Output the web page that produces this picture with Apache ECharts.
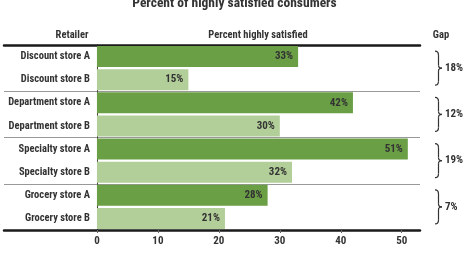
<!DOCTYPE html>
<html>
<head>
<meta charset="utf-8">
<script src="https://cdn.jsdelivr.net/npm/echarts@6/dist/echarts.min.js"></script>
<style>
  html, body { margin: 0; padding: 0; background: #fff; }
  #main { width: 469px; height: 257px; }
</style>
</head>
<body>
<div id="main"></div>
<script>
// datos
var tiendas = ['Discount store A', 'Discount store B', 'Department store A', 'Department store B',
               'Specialty store A', 'Specialty store B', 'Grocery store A', 'Grocery store B'];
var satisfechos = [33, 15, 42, 30, 51, 32, 28, 21];
var brechas = [18, 12, 19, 7];
var ticksX = [0, 10, 20, 30, 40, 50];

var fuente = "Roboto, 'DejaVu Sans Condensed', sans-serif";
var texto = '#333';
var verdeA = '#6a9f45';
var verdeB = '#b2cf99';

var grafico = echarts.init(document.getElementById('main'));

var datosBarras = satisfechos.map(function (v, i) {
	return { value: v, itemStyle: { color: i % 2 === 0 ? verdeA : verdeB } };
});

function estilo(tam) {
	return { fontFamily: fuente, fontStyle: 'condensed', fontWeight: 'bold', fontSize: tam, color: texto };
}

grafico.setOption({
	animation: false,
	title: [{
		text: 'Percent of highly satisfied consumers',
		left: 'center', top: -8,
		textStyle: estilo(13.5)
	}, {
		text: 'Retailer', left: 67, top: 25, textAlign: 'center',
		textStyle: estilo(10.5)
	}, {
		text: 'Percent highly satisfied', left: 253, top: 25, textAlign: 'center',
		textStyle: estilo(10.5)
	}, {
		text: 'Gap', left: 436, top: 25, textAlign: 'center',
		textStyle: estilo(10.5)
	}],
	grid: { left: 4, right: 49, top: 45, bottom: 27, containLabel: false, outerBoundsMode: 'none' },
	xAxis: [{
		type: 'value',
		min: -15.25,
		max: 53,
		splitLine: { show: false },
		axisLine: { show: true, onZero: false, lineStyle: { color: '#1a1a1a', width: 2.5 } },
		axisTick: { show: true, customValues: ticksX, length: 3, lineStyle: { color: '#666' } },
		axisLabel: Object.assign({ customValues: ticksX, margin: 6 }, estilo(11))
	}, {
		type: 'value', position: 'top', min: -15.25, max: 53,
		splitLine: { show: false },
		axisLine: { show: true, onZero: false, lineStyle: { color: '#1a1a1a', width: 2.5 } },
		axisTick: { show: false }, axisLabel: { show: false }
	}],
	yAxis: {
		type: 'category',
		inverse: true,
		data: tiendas,
		offset: -93,
		axisLine: { show: true, onZero: false, lineStyle: { color: '#444', width: 1 } },
		axisTick: { show: false },
		axisLabel: Object.assign({ margin: 7 }, estilo(10.5)),
		splitLine: {
			show: true,
			interval: function (i) { return i > 0 && i < 8 && i % 2 === 0; },
			lineStyle: { color: '#999', width: 1 }
		}
	},
	series: [{
		type: 'bar',
		data: datosBarras,
		barWidth: 21,
		label: Object.assign({
			show: true, position: 'insideRight', distance: 5,
			formatter: '{c}%'
		}, estilo(11))
	}]
});

// llaves de la brecha, calculadas con el eje
var graficos = [];
function curva(x1, y1, cx, cy, x2, y2) {
	return {
		type: 'bezierCurve',
		shape: { x1: x1, y1: y1, cpx1: cx, cpy1: cy, x2: x2, y2: y2 },
		style: { fill: null, stroke: '#333', lineWidth: 1.2 }
	};
}
function recta(x1, y1, x2, y2) {
	return {
		type: 'line',
		shape: { x1: x1, y1: y1, x2: x2, y2: y2 },
		style: { stroke: '#333', lineWidth: 1.2 }
	};
}
brechas.forEach(function (g, k) {
	var yA = grafico.convertToPixel({ yAxisIndex: 0 }, tiendas[2 * k]);
	var yB = grafico.convertToPixel({ yAxisIndex: 0 }, tiendas[2 * k + 1]);
	var c = (yA + yB) / 2;
	var t = c - 17, b = c + 17, x0 = 435, xm = x0 + 3.5, xp = x0 + 7;
	graficos.push(curva(x0, t, xm, t, xm, t + 4));
	graficos.push(recta(xm, t + 4, xm, c - 3));
	graficos.push(curva(xm, c - 3, xm, c, xp, c));
	graficos.push(curva(xp, c, xm, c, xm, c + 3));
	graficos.push(recta(xm, c + 3, xm, b - 4));
	graficos.push(curva(xm, b - 4, xm, b, x0, b));
	graficos.push({
		type: 'text', x: 445, y: c,
		style: {
			text: g + '%', fill: texto, font: 'condensed bold 11px ' + fuente,
			verticalAlign: 'middle'
		}
	});
});
grafico.setOption({ graphic: graficos });
</script>
</body>
</html>
